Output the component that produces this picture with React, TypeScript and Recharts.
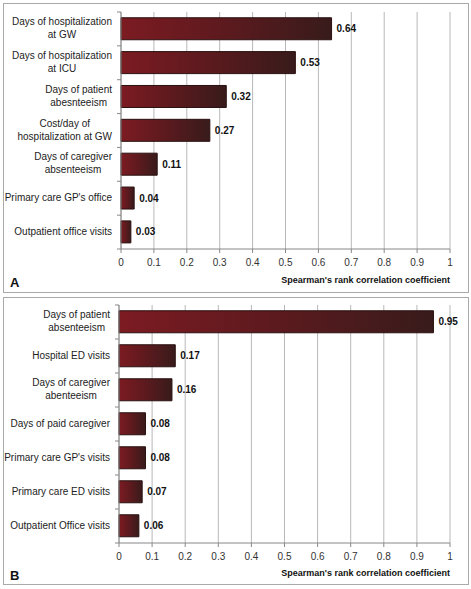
import React from "react";
import {
  BarChart,
  Bar,
  XAxis,
  YAxis,
  CartesianGrid,
  LabelList,
} from "recharts";

const FONT = '"Liberation Sans", Arial, sans-serif';

// panel A
const CATEGORIES_A = [
  "Days of hospitalization\nat GW",
  "Days of hospitalization\nat ICU",
  "Days of patient\nabesnteeism",
  "Cost/day of\nhospitalization at GW",
  "Days of caregiver\nabsenteeism",
  "Primary care GP's office",
  "Outpatient office visits",
];
const VALUES_A = [0.64, 0.53, 0.32, 0.27, 0.11, 0.04, 0.03];

// panel B
const CATEGORIES_B = [
  "Days of patient\nabsenteeism",
  "Hospital ED visits",
  "Days of caregiver\nabenteeism",
  "Days of paid caregiver",
  "Primary care GP's visits",
  "Primary care ED visits",
  "Outpatient Office visits",
];
const VALUES_B = [0.95, 0.17, 0.16, 0.08, 0.08, 0.07, 0.06];

const X_TICKS = [0, 0.1, 0.2, 0.3, 0.4, 0.5, 0.6, 0.7, 0.8, 0.9, 1];
const AXIS_TITLE = "Spearman's rank correlation coefficient";

let ctx: CanvasRenderingContext2D | null = null;
function textWidth(s: string) {
  if (!ctx) {
    ctx = document.createElement("canvas").getContext("2d");
  }
  if (!ctx) return s.length * 5;
  ctx.font = `10px ${FONT}`;
  return ctx.measureText(s).width;
}

function CategoryTick(props: any) {
  const { x, y, payload, band, count } = props;
  const lines: string[] = String(payload.value).split("\n");
  const maxW = Math.max(...lines.map(textWidth));
  const cx = x - 9 - maxW / 2;
  const lh = 13;
  return (
    <g>
      <line x1={x - 4} x2={x} y1={y - band / 2} y2={y - band / 2} stroke="#888" />
      {payload.index === count - 1 && (
        <line x1={x - 4} x2={x} y1={y + band / 2} y2={y + band / 2} stroke="#888" />
      )}
      <text
        x={cx}
        y={y}
        textAnchor="middle"
        fontSize={10}
        fontFamily={FONT}
        fill="#222"
      >
        {lines.map((l, i) => (
          <tspan key={i} x={cx} y={y + (i - (lines.length - 1) / 2) * lh - 1} dy="0.35em">
            {l}
          </tspan>
        ))}
      </text>
    </g>
  );
}

function Panel({
  id,
  categories,
  values,
  width,
  height,
  yWidth,
  top,
  bottom,
}: {
  id: string;
  categories: string[];
  values: number[];
  width: number;
  height: number;
  yWidth: number;
  top: number;
  bottom: number;
}) {
  const data = categories.map((name, i) => ({ name, value: values[i] }));
  const right = 18;
  const plotH = height - top - bottom;
  const band = plotH / data.length;
  return (
    <BarChart
      width={width}
      height={height}
      data={data}
      layout="vertical"
      margin={{ top, right, bottom: bottom - 20, left: 0 }}
      barCategoryGap="17%"
    >
      <defs>
        <linearGradient id={id} x1="0" y1="0" x2="1" y2="0">
          <stop offset="0%" stopColor="#7c1b22" />
          <stop offset="50%" stopColor="#5c1a1e" />
          <stop offset="100%" stopColor="#381b1b" />
        </linearGradient>
      </defs>
      <CartesianGrid horizontal={false} stroke="#b8b8b8" />
      <XAxis
        type="number"
        domain={[0, 1]}
        ticks={X_TICKS}
        interval={0}
        height={20}
        tickSize={4}
        tickMargin={6}
        stroke="#888"
        tick={{ fontSize: 10, fill: "#333", fontFamily: FONT }}
        tickFormatter={(v: number) => String(v)}
      />
      <XAxis
        xAxisId="top"
        orientation="top"
        type="number"
        domain={[0, 1]}
        height={0}
        tick={false}
        tickLine={false}
        stroke="#b8b8b8"
      />
      <YAxis
        type="category"
        dataKey="name"
        width={yWidth}
        tickSize={0}
        tickMargin={0}
        interval={0}
        stroke="#888"
        tick={<CategoryTick band={band} count={data.length} />}
      />
      <Bar
        dataKey="value"
        fill={`url(#${id})`}
        stroke="#2a1010"
        strokeWidth={1}
        isAnimationActive={false}
      >
        <LabelList
          dataKey="value"
          position="right"
          offset={5}
          fill="#111"
          fontSize={10}
          fontWeight="bold"
          fontFamily={FONT}
          formatter={(v: number) => v.toFixed(2)}
        />
      </Bar>
    </BarChart>
  );
}

const boxStyle: React.CSSProperties = {
  position: "absolute",
  left: 3,
  width: 466,
  border: "1px solid #aaa",
  boxSizing: "border-box",
};

const titleStyle: React.CSSProperties = {
  position: "absolute",
  right: 21,
  fontSize: 9,
  lineHeight: "12px",
  fontWeight: "bold",
  fontFamily: FONT,
  color: "#111",
  whiteSpace: "nowrap",
};

const letterStyle: React.CSSProperties = {
  position: "absolute",
  left: 10,
  fontSize: 13,
  lineHeight: "13px",
  fontWeight: "bold",
  fontFamily: FONT,
  color: "#111",
};

export default function App() {
  return (
    <div
      style={{
        position: "absolute",
        left: 0,
        top: 0,
        width: 471,
        height: 589,
        background: "#fff",
      }}
    >
      <div style={{ ...boxStyle, top: 3, height: 290 }}>
        <Panel
          id="gradA"
          categories={CATEGORIES_A}
          values={VALUES_A}
          width={464}
          height={288}
          yWidth={117}
          top={8}
          bottom={43}
        />
      </div>
      <div style={{ ...titleStyle, top: 274 }}>{AXIS_TITLE}</div>
      <div style={{ ...letterStyle, top: 276 }}>A</div>

      <div style={{ ...boxStyle, top: 297, height: 288 }}>
        <Panel
          id="gradB"
          categories={CATEGORIES_B}
          values={VALUES_B}
          width={464}
          height={286}
          yWidth={115}
          top={7}
          bottom={41}
        />
      </div>
      <div style={{ ...titleStyle, top: 567 }}>{AXIS_TITLE}</div>
      <div style={{ ...letterStyle, top: 569 }}>B</div>
    </div>
  );
}
